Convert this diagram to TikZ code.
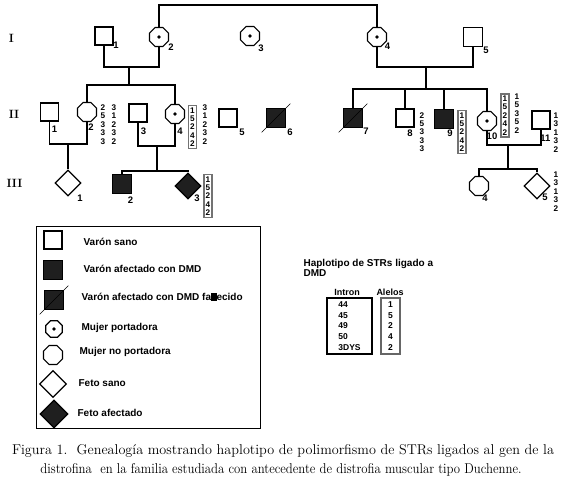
\documentclass[tikz,border=0pt]{standalone}
\usepackage{fontspec}
\setsansfont{Liberation Sans}
\usetikzlibrary{shapes.geometric}

\begin{document}
\begin{tikzpicture}[x=1pt,y=-1pt,line width=1.2pt]
	\useasboundingbox (0,0) rectangle (562,489);

	% Styles for the symbols
	\tikzstyle{male}=[
	rectangle,
	draw,
	line width=1.9pt,
	minimum size=18pt,
	inner sep=0pt
	]
	\tikzstyle{affected}=[male, line width=0.6pt, minimum size=19.5pt, fill=black!88]
	\tikzstyle{female}=[
	regular polygon,
	regular polygon sides=8,
	draw,
	line width=1.2pt,
	minimum size=20.5pt,
	inner sep=0pt
	]
	\tikzstyle{carrier}=[female, path picture={\fill (path picture bounding box.center) circle (1.9pt);}]
	\tikzstyle{fetus}=[diamond, draw, line width=1.2pt, minimum size=26pt, inner sep=0pt]
	\tikzstyle{dead}=[line width=0.6pt, shorten <=-6pt, shorten >=-6pt]
	% Style for the texts
	\tikzstyle{num}=[font=\sffamily\bfseries\fontsize{9.5}{10}\selectfont, inner sep=0pt]
	\tikzstyle{allele}=[font=\sffamily\bfseries\fontsize{8.2}{8.4}\selectfont, align=center, inner sep=0pt]
	\tikzstyle{hap}=[allele, draw=black!55, line width=1.3pt, inner sep=1.8pt]
	\tikzstyle{gen}=[font=\bfseries\fontsize{12}{12}\selectfont, inner sep=0pt]
	\tikzstyle{legtext}=[font=\sffamily\bfseries\fontsize{10}{10}\selectfont, anchor=west, inner sep=0pt]

	% --- Generations ---
	\node[gen] (gI) at (11.5,38.5) {I};
	\node[gen] (gII) at (14,114.5) {II};
	\node[gen] (gIII) at (14.5,183.5) {III};

	% --- Generation I ---
	\node[male] (I1) at (104,36) {};
	\node[num] (nI1) at (116,45) {1};
	\node[carrier] (I2) at (159,37) {};
	\node[num] (nI2) at (171,47) {2};
	\node[carrier] (I3) at (250,36) {};
	\node[num] (nI3) at (261,48) {3};
	\node[carrier] (I4) at (377,37) {};
	\node[num] (nI4) at (387.5,46) {4};
	\node[male, minimum size=19pt] (I5) at (473,37) {};
	\node[num] (nI5) at (486,50) {5};

	% --- Generation II ---
	\node[male] (II1) at (49.5,112) {};
	\node[num] (nII1) at (54.5,129.5) {1};
	\node[female] (II2) at (87,112) {};
	\node[num] (nII2) at (91,127) {2};
	\node[allele] (aII2) at (103,124.5) {2\\5\\3\\3\\3};
	\node[allele] (bII2) at (114,124.5) {3\\1\\2\\3\\2};
	\node[male] (II3) at (138,113) {};
	\node[num] (nII3) at (143.5,131) {3};
	\node[carrier] (II4) at (175,114) {};
	\node[num] (nII4) at (180,131) {4};
	\node[hap] (hII4) at (192.5,127) {1\\5\\2\\4\\2};
	\node[allele] (bII4) at (205,124.5) {3\\1\\2\\3\\2};
	\node[male] (II5) at (228,118) {};
	\node[num] (nII5) at (242,132) {5};
	\node[affected] (II6) at (276,118) {};
	\node[num] (nII6) at (290,132) {6};
	\node[affected] (II7) at (353,118) {};
	\node[num] (nII7) at (366,131) {7};
	\node[male] (II8) at (405,118) {};
	\node[num] (nII8) at (410,133) {8};
	\node[allele] (aII8) at (422,132) {2\\5\\3\\3\\3};
	\node[affected] (II9) at (444,119) {};
	\node[num] (nII9) at (450,133) {9};
	\node[hap] (hII9) at (462,132) {1\\5\\2\\4\\2};
	\node[carrier] (II10) at (487,121) {};
	\node[num] (nII10) at (492,136) {10};
	\node[hap] (hII10) at (505,115.5) {1\\5\\2\\4\\2};
	\node[allele] (bII10) at (517,113.5) {1\\5\\3\\5\\2};
	\node[male] (II11) at (541,120) {};
	\node[num] (nII11) at (545.5,138) {11};
	\node[allele] (aII11) at (556,132.5) {1\\3\\1\\3\\2};

	% --- Generation III ---
	\node[fetus] (III1) at (68,183) {};
	\node[num] (nIII1) at (80,198) {1};
	\node[affected] (III2) at (122,184) {};
	\node[num] (nIII2) at (130.5,200) {2};
	\node[fetus, fill=black!88] (III3) at (188,186) {};
	\node[num] (nIII3) at (197,198) {3};
	\node[hap] (hIII3) at (208,196) {1\\5\\2\\4\\2};
	\node[female] (III4) at (479,186) {};
	\node[num] (nIII4) at (485,198) {4};
	\node[fetus] (III5) at (537,186) {};
	\node[num] (nIII5) at (545,197) {5};
	\node[allele] (aIII5) at (556,191.5) {1\\3\\1\\3\\2};

	% deceased
	\draw[dead] (II6.south west) -- (II6.north east);
	\draw[dead] (II7.south west) -- (II7.north east);

	% --- Lines ---
	\coordinate (top) at (268,5);
	\draw (I2.north) |- (top) -| (I4.north);
	\coordinate (m1) at (129,67);
	\coordinate (s1) at (129,85);
	\draw (I1.south) |- (m1) -| (I2.south);
	\draw (m1) -- (s1);
	\draw (II2.north) |- (s1) -| (II4.north);
	\coordinate (m2) at (426,67);
	\coordinate (s2) at (426,89);
	\draw (I4.south) |- (m2) -| (I5.south);
	\draw (m2) -- (s2);
	\draw (II7.north) |- (s2) -| (II10.north);
	\draw (II8.north) -- (II8.north |- s2);
	\draw (II9.north) -- (II9.north |- s2);
	\coordinate (m3) at (68,144);
	\draw (II1.south) |- (m3) -| (II2.south);
	\draw[line width=1.9pt] (m3) -- (III1.north);
	\coordinate (m4) at (157,146);
	\coordinate (s4) at (157,171);
	\draw (II3.south) |- (m4) -| (II4.south);
	\draw (m4) -- (s4);
	\draw (III2.north) |- (s4) -| (III3.north);
	\coordinate (m5) at (508,145);
	\coordinate (s5) at (508,169);
	\draw (II10.south) |- (m5) -| (II11.south);
	\draw (m5) -- (s5);
	\draw (III4.north) |- (s5) -| (III5.north);

	% --- Legend ---
	\node[draw, line width=1pt, minimum width=224pt, minimum height=202pt, inner sep=0pt] (legend) at (148,327) {};
	\node[male] (L1) at (53,240) {};
	\node[legtext] (tL1) at (83,242) {Varón sano};
	\node[affected] (L2) at (53,270) {};
	\node[legtext] (tL2) at (83,269) {Varón afectado con DMD};
	\node[affected] (L3) at (54,300) {};
	\draw[dead] (L3.south west) -- (L3.north east);
	\node[legtext] (tL3) at (81,297) {Varón afectado con DMD fa\rule[-0.3pt]{5.5pt}{7.6pt}ecido};
	\node[carrier, minimum size=18pt] (L4) at (54,329) {};
	\node[legtext] (tL4) at (81,328) {Mujer portadora};
	\node[female] (L5) at (53,355) {};
	\node[legtext] (tL5) at (79,352) {Mujer no portadora};
	\node[fetus, minimum size=27pt] (L6) at (53,384) {};
	\node[legtext] (tL6) at (78,383) {Feto sano};
	\node[fetus, minimum size=28pt, fill=black!88] (L7) at (54,414) {};
	\node[legtext] (tL7) at (77,413) {Feto afectado};

	% --- Haplotype key ---
	\node[legtext, anchor=north west, align=left] (haptitle) at (303,259) {Haplotipo de STRs ligado a\\DMD};
	\node[legtext, anchor=center, font=\sffamily\bfseries\fontsize{9}{9}\selectfont] (hIntron) at (347,292) {Intron};
	\node[legtext, anchor=center, font=\sffamily\bfseries\fontsize{9}{9}\selectfont] (hAlelos) at (390,292) {Alelos};
	\node[draw, line width=1.3pt, minimum width=45pt, minimum height=56pt, align=left,
	font=\sffamily\bfseries\fontsize{8.5}{10.8}\selectfont] (intron) at (349.5,326) {44\\45\\49\\50\\3DYS};
	\node[draw=black!60, line width=1.3pt, minimum width=19pt, minimum height=56pt, align=center,
	font=\sffamily\bfseries\fontsize{8.5}{10.8}\selectfont] (alelos) at (390.5,326) {1\\5\\2\\4\\2};

	% --- Caption ---
	\node[font=\fontsize{14.2}{15}\selectfont] (cap1) at (283,451) {Figura 1.\ \ Genealogía mostrando haplotipo de polimorfismo de STRs ligados al gen de la};
	\node[font=\fontsize{14.2}{15}\selectfont] (cap2) at (281,470) {\scalebox{0.9}[1]{distrofina\ \ en la familia estudiada con antecedente de distrofia muscular tipo Duchenne.}};
\end{tikzpicture}
\end{document}
